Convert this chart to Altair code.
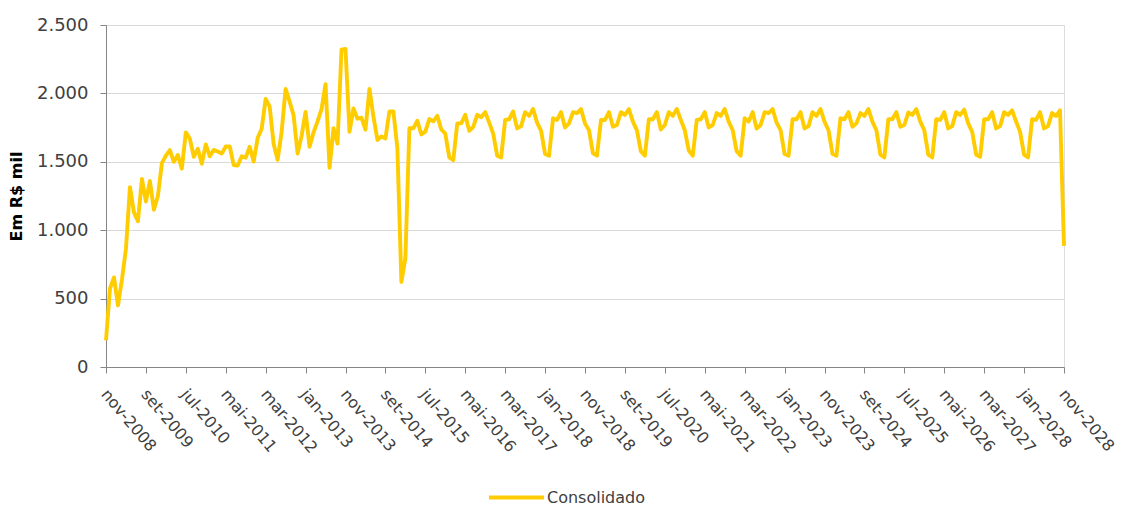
import altair as alt
import pandas as pd

# Monthly values (R$ mil), nov-2008 .. nov-2028
values = [
    195, 575, 655, 450, 640, 865, 1315, 1130, 1065, 1375,
    1210, 1360, 1150, 1250, 1490, 1545, 1585, 1500, 1550, 1450,
    1715, 1670, 1537, 1595, 1485, 1627, 1540, 1587, 1575, 1560,
    1612, 1612, 1476, 1473, 1540, 1530, 1610, 1502, 1675, 1742,
    1960, 1905, 1630, 1515, 1720, 2033, 1940, 1840, 1560, 1690,
    1865, 1610, 1715, 1795, 1885, 2068, 1457, 1745, 1633, 2320,
    2325, 1720, 1890, 1815, 1822, 1735, 2033, 1830, 1660, 1685,
    1670, 1868, 1868, 1598, 622, 795, 1745, 1745, 1800, 1700,
    1720, 1812, 1796, 1836, 1736, 1706, 1532, 1512, 1781, 1781,
    1843, 1726, 1756, 1843, 1826, 1863, 1786, 1706, 1545, 1532,
    1806, 1811, 1868, 1744, 1761, 1863, 1836, 1886, 1786, 1726,
    1557, 1545, 1818, 1806, 1863, 1751, 1781, 1863, 1856, 1886,
    1781, 1731, 1562, 1545, 1806, 1806, 1863, 1756, 1769, 1863,
    1843, 1886, 1794, 1731, 1577, 1545, 1811, 1811, 1863, 1736,
    1769, 1863, 1836, 1886, 1806, 1731, 1582, 1545, 1806, 1811,
    1863, 1751, 1769, 1856, 1836, 1886, 1794, 1731, 1577, 1545,
    1818, 1794, 1863, 1744, 1769, 1863, 1856, 1886, 1786, 1731,
    1557, 1545, 1811, 1811, 1863, 1744, 1761, 1863, 1836, 1886,
    1794, 1731, 1557, 1545, 1818, 1811, 1863, 1756, 1781, 1856,
    1836, 1886, 1794, 1731, 1552, 1532, 1811, 1811, 1863, 1756,
    1769, 1860, 1843, 1886, 1794, 1731, 1552, 1532, 1811, 1806,
    1863, 1744, 1761, 1863, 1843, 1881, 1781, 1719, 1552, 1537,
    1811, 1811, 1863, 1744, 1761, 1863, 1843, 1876, 1794, 1719,
    1552, 1532, 1811, 1806, 1863, 1744, 1761, 1856, 1836, 1876,
    885,
]

month_abbr = ["jan", "fev", "mar", "abr", "mai", "jun",
              "jul", "ago", "set", "out", "nov", "dez"]
months = [f"{month_abbr[(10 + i) % 12]}-{2008 + (10 + i) // 12}"
          for i in range(len(values))]
tick_labels = months[::10]
y_ticks = [0, 500, 1000, 1500, 2000, 2500]
series_name = "Consolidado"

df = pd.DataFrame({"mes": months, "valor": values, "serie": series_name})

FONT = "DejaVu Sans"
TXT = "#404040"

chart = alt.Chart(df).mark_line(strokeWidth=3.9, strokeJoin="round").encode(
    x=alt.X(
        "mes:N",
        sort=months,
        scale=alt.Scale(type="point", padding=0),
        axis=alt.Axis(
            values=tick_labels,
            title=None,
            labelAngle=50,
            labelAlign="left",
            labelBaseline="top",
            labelFont=FONT,
            labelFontSize=16,
            labelColor=TXT,
            labelPadding=13,
            labelOffset=4,
            labelOverlap=False,
            labelBound=False,
            labelFlush=False,
            domainColor="#868686",
            tickColor="#868686",
            tickSize=6,
            grid=False,
        ),
    ),
    y=alt.Y(
        "valor:Q",
        scale=alt.Scale(domain=[0, 2500], nice=False),
        axis=alt.Axis(
            values=y_ticks,
            title="Em R$ mil",
            titleFont=FONT,
            titleFontSize=16,
            titleFontWeight="bold",
            titleColor="#000000",
            titlePadding=12,
            labelFont=FONT,
            labelFontSize=18,
            labelColor=TXT,
            labelPadding=12,
            labelExpr="replace(format(datum.value, ','), ',', '.')",
            domainColor="#868686",
            tickColor="#868686",
            tickSize=6,
            grid=True,
            gridColor="#D9D9D9",
            gridWidth=1,
        ),
    ),
    color=alt.Color(
        "serie:N",
        scale=alt.Scale(domain=[series_name], range=["#FFCC00"]),
        legend=alt.Legend(
            title=None,
            orient="none",
            legendX=381,
            legendY=443,
            symbolType="stroke",
            symbolSize=3025,
            symbolStrokeWidth=4,
            labelFont=FONT,
            labelFontSize=16,
            labelColor=TXT,
            labelOffset=1,
        ),
    ),
).properties(
    width=958,
    height=342,
    autosize=alt.AutoSizeParams(type="none"),
    padding={"left": 98, "top": 17, "right": 56, "bottom": 139},
).configure_view(
    stroke=None
).configure(
    background="white"
)

chart.save("out.html", embed_options={"renderer": "svg", "actions": False})
